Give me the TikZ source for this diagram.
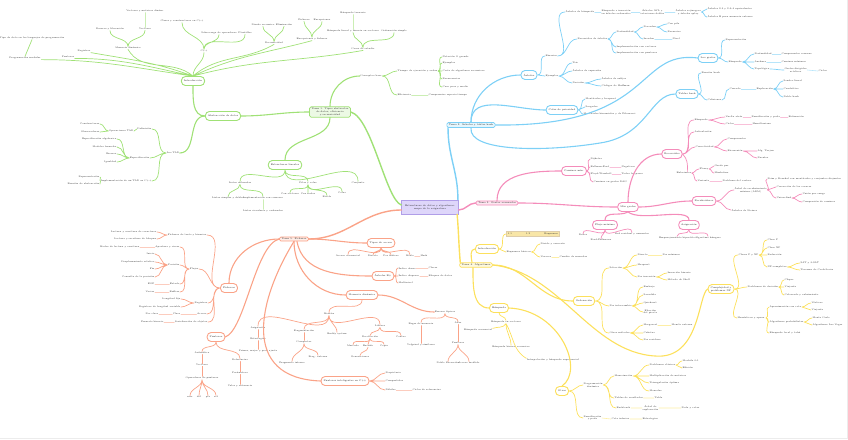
\documentclass[tikz,border=0pt]{standalone}
\usepackage{tikz}
\usetikzlibrary{positioning}

\definecolor{grn}{RGB}{160,225,118}
\definecolor{blu}{RGB}{125,208,246}
\definecolor{pnk}{RGB}{244,140,186}
\definecolor{ylw}{RGB}{252,224,92}
\definecolor{org}{RGB}{250,163,136}
\definecolor{lav}{RGB}{222,214,250}
\definecolor{lavd}{RGB}{176,158,232}
\definecolor{crm}{RGB}{246,234,208}
\definecolor{crmd}{RGB}{222,205,170}

\tikzset{
  txt/.style={font=\fontsize{2.3}{2.8}\selectfont, inner sep=0.4pt, text=black!80, align=center},
  wtxt/.style={txt, anchor=west},
  etxt/.style={txt, anchor=east},
  topicbox/.style={draw=#1, rounded corners=4pt, line width=0.9pt, fill=white, inner xsep=2.5pt, inner ysep=1.5pt, minimum height=9pt, font=\fontsize{2.4}{2.9}\selectfont, align=center, text=black!85},
  mainbox/.style={draw=#1, fill=#1!20, rounded corners=1.5pt, line width=0.7pt, inner xsep=2pt, inner ysep=1.2pt, font=\fontsize{2.4}{2.9}\selectfont, align=center, text=black!85},
  tl/.style={draw=#1, line width=1.4pt, line cap=round},
  ml/.style={draw=#1, line width=1.1pt, line cap=round},
  ll/.style={draw=#1, line width=0.7pt, line cap=round},
  fl/.style={draw=#1!55, line width=0.6pt, line cap=round},
  rt/.style={out=0, in=180},
  lf/.style={out=180, in=0},
  dn/.style={out=-90, in=90},
  upw/.style={out=90, in=-90},
}

\begin{document}
\begin{tikzpicture}[x=1pt, y=-1pt]
\useasboundingbox (0,0) rectangle (848,439);
\draw[gray!15, line width=1pt] (0,438.5) -- (847.5,438.5) -- (847.5,0);

% centre
\node[draw=lavd, fill=lav, line width=0.7pt, minimum width=46pt, minimum height=14pt, font=\fontsize{2.4}{2.9}\selectfont, align=center, text=black!85] (ctr) at (430,207) {Estructuras de datos y algoritmos:\\ mapa de la asignatura};

% tema 1
\node[mainbox=grn] (g0) at (330,112) {Tema 1. Tipos abstractos\\ de datos, eficiencia\\ y recursividad};
\node[txt] (g1) at (371,76) {Conceptos base};
\node[wtxt] (g1a) at (397,71) {Tiempo de ejecución y orden};
\node[wtxt] (g1a1) at (442,57) {Notación O grande};
\node[wtxt] (g1a2) at (442,63) {Ejemplos};
\node[wtxt] (g1a3) at (442,71) {Coste de algoritmos recursivos};
\node[wtxt] (g1a4) at (442,79) {Recurrencias};
\node[wtxt] (g1a5) at (442,87) {Caso peor y medio};
\node[wtxt] (g1b) at (397,95) {Eficiencia};
\node[wtxt] (g1b1) at (428,95) {Compromiso espacio-tiempo};
\node[topicbox=grn] (g2) at (285,165) {Estructuras lineales};
\node[txt] (g2a) at (240,183) {Listas enlazadas};
\node[txt] (g2a1) at (228,198) {Listas simples y dobles};
\node[txt] (g2a2) at (263,198) {Implementación con cursores};
\node[txt] (g2a3) at (263,211) {Listas circulares y ordenadas};
\node[txt] (g2b) at (308,183) {Pilas y colas};
\node[txt] (g2b1) at (290,194) {Con vectores};
\node[txt] (g2b2) at (308,194) {Con nodos};
\node[txt] (g2b3) at (327,197) {Bicola};
\node[txt] (g2b4) at (342,193) {Colas};
\node[txt] (g2c) at (358,183) {Conjunto};
\node[topicbox=grn] (g3) at (223,116) {Abstracción de datos};
\node[topicbox=grn] (g4) at (193,81) {Introducción};
\node[txt] (g5) at (173,153) {Los TAD};
\node[etxt] (g5a) at (152,129) {Definición};
\node[etxt] (g5a1) at (134,131) {Operaciones TAD};
\node[etxt] (g5a1a) at (100,124) {Constructoras};
\node[etxt] (g5a1b) at (100,132) {Observadoras};
\node[etxt] (g5b) at (150,158) {Especificación};
\node[etxt] (g5b1) at (117,139) {Especificación algebraica};
\node[etxt] (g5b2) at (117,147) {Modelos formales};
\node[etxt] (g5b3) at (117,154) {Errores};
\node[etxt] (g5b4) at (117,162) {Igualdad};
\node[etxt] (g5c) at (152,181) {Implementación de un TAD en C++};
\node[etxt] (g5c1) at (100,177) {Representación};
\node[etxt] (g5c2) at (100,184) {Función de abstracción};
\node[txt] (g4a) at (25,58) {Programación modular};
\node[txt] (g4a1) at (32,38) {Tipo de dato en los lenguajes de programación};
\node[txt] (g4b) at (68,57) {Punteros};
\node[txt] (g4c) at (84,51) {Registros};
\node[txt] (g4d) at (128,48) {Memoria dinámica};
\node[txt] (g4d1) at (110,29) {Reserva y liberación};
\node[txt] (g4d2) at (145,29) {Vectores};
\node[txt] (g4d3) at (145,11) {Vectores y matrices dinám.};
\node[txt] (g4e) at (204,51) {C++};
\node[txt] (g4e1) at (182,21) {Clases y constructores en C++};
\node[txt] (g4e2) at (219,33) {Sobrecarga de operadores};
\node[txt] (g4e3) at (245,33) {Plantillas};
\node[txt] (g4f) at (274,43) {Recursividad};
\node[txt] (g4f1) at (263,25) {Diseño recursivo};
\node[txt] (g4f2) at (284,25) {Eliminación};
\node[txt] (g4g) at (312,39) {Excepciones y ficheros};
\node[txt] (g4g1) at (304,20) {Ficheros};
\node[txt] (g4g2) at (322,20) {Excepciones};
\node[txt] (g4h) at (363,49) {Casos de estudio};
\node[txt] (g4h1) at (353,31) {Búsqueda lineal y binaria en vectores};
\node[txt] (g4h2) at (394,31) {Ordenación simple};
\node[txt] (g4h3) at (353,13) {Búsqueda ternaria};

% tema 2
\node[mainbox=blu] (b0) at (471,125) {Tema 2. Árboles y tablas hash};
\node[topicbox=blu] (b1) at (529,75) {Árboles};
\node[topicbox=blu] (b2) at (562,110) {Colas de prioridad};
\node[topicbox=blu] (b3) at (708,58) {Los grafos};
\node[topicbox=blu] (b4) at (687,94) {Tablas hash};
\node[wtxt] (b1a) at (545,56) {Binarios};
\node[wtxt] (b1b) at (565,12) {Árboles de búsqueda};
\node[wtxt] (b1b1) at (601,12) {Búsqueda e inserción\\ en árboles ordenados};
\node[wtxt] (b1b2) at (640,12) {Árboles AVL y\\ rotaciones dobles};
\node[wtxt] (b1b3) at (675,12) {Árboles rojinegros\\ y árboles splay};
\node[wtxt] (b1b4) at (707,9) {Árboles 2-3 y 2-3-4 equivalentes};
\node[wtxt] (b1b5) at (707,17) {Árboles B para memoria externa};
\node[wtxt] (b1c) at (577,39) {Recorridos de árboles};
\node[wtxt] (b1c1) at (616,32) {Profundidad};
\node[wtxt] (b1c1a) at (643,27) {Preorden};
\node[wtxt] (b1c1a1) at (667,24) {Con pila};
\node[wtxt] (b1c1a2) at (667,32) {Recursivo};
\node[wtxt] (b1c1b) at (643,39) {Inorden};
\node[wtxt] (b1c1b1) at (672,39) {Nivel};
\node[wtxt] (b1c2) at (616,47) {Implementación con vectores};
\node[wtxt] (b1c3) at (616,53) {Implementación con punteros};
\node[wtxt] (b1d) at (545,76) {Ejemplos};
\node[wtxt] (b1d1) at (572,63) {Trie};
\node[wtxt] (b1d2) at (572,71) {Árboles de expresión};
\node[wtxt] (b1d3) at (572,83) {Decisión};
\node[wtxt] (b1d3a) at (601,79) {Árboles de sufijos};
\node[wtxt] (b1d3b) at (601,86) {Códigos de Huffman};
\node[wtxt] (b2a) at (585,99) {Montículos y heapsort};
\node[wtxt] (b2b) at (585,107) {Sesgados};
\node[wtxt] (b2c) at (583,114) {Montículos binomiales y de Fibonacci};
\node[wtxt] (b3a) at (725,40) {Representación};
\node[wtxt] (b3b) at (728,62) {Búsqueda};
\node[wtxt] (b3b1) at (754,54) {Profundidad};
\node[wtxt] (b3b1a) at (781,54) {Componentes conexas};
\node[wtxt] (b3b2) at (754,62) {Anchura};
\node[wtxt] (b3b2a) at (781,62) {Caminos mínimos};
\node[wtxt] (b3b3) at (754,69) {Topológica};
\node[wtxt] (b3b3a) at (784,70) {Grafos dirigidos\\ acíclicos};
\node[wtxt] (b3b3a1) at (818,71) {Ciclos};
\node[wtxt] (b4a) at (701,73) {Función hash};
\node[wtxt] (b4b) at (707,100) {Colisiones};
\node[wtxt] (b4b1) at (729,89) {Cerrada};
\node[wtxt] (b4b1a) at (756,89) {Exploración};
\node[wtxt] (b4b1a1) at (783,81) {Sondeo lineal};
\node[wtxt] (b4b1a2) at (783,89) {Cuadrático};
\node[wtxt] (b4b1a3) at (783,97) {Doble hash};

% tema 3
\node[mainbox=pnk] (p0) at (497,203) {Tema 3. Grafos avanzados};
\node[topicbox=pnk] (p1) at (574,171) {Caminos mín.};
\node[wtxt] (p1a) at (590,159) {Dijkstra};
\node[wtxt] (p1b) at (590,167) {Bellman-Ford};
\node[wtxt] (p1b1) at (621,167) {Negativos};
\node[wtxt] (p1c) at (590,174) {Floyd-Warshall};
\node[wtxt] (p1c1) at (621,174) {Todos los pares};
\node[wtxt] (p1d) at (593,182) {Caminos en grafos DAG};
\node[topicbox=pnk] (p2) at (628,207) {Más grafos};
\node[topicbox=pnk] (p3) at (672,154) {Recorridos};
\node[wtxt] (p3a) at (694,120) {Búsqueda};
\node[wtxt] (p3a1) at (725,117) {Vuelta atrás};
\node[wtxt] (p3a1a) at (751,117) {Ramificación y poda};
\node[wtxt] (p3a1b) at (788,117) {Estimación};
\node[wtxt] (p3a2) at (725,124) {Ciclos};
\node[wtxt] (p3a2a) at (752,124) {Hamiltoniano};
\node[wtxt] (p3b) at (694,132) {Articulación};
\node[wtxt] (p3c) at (695,147) {Conectividad};
\node[wtxt] (p3c1) at (727,139) {Componentes};
\node[wtxt] (p3c2) at (727,151) {Biconexión};
\node[wtxt] (p3c2a) at (757,151) {Alg. Tarjan};
\node[wtxt] (p3c2b) at (757,158) {Puentes};
\node[wtxt] (p3d) at (676,173) {Eulerianos};
\node[wtxt] (p3d1) at (699,169) {Fleury};
\node[wtxt] (p3d1a) at (714,166) {Grado par};
\node[wtxt] (p3d1b) at (714,173) {Hierholzer};
\node[wtxt] (p3d2) at (697,181) {Variante};
\node[wtxt] (p3d2a) at (722,181) {Problema del cartero};
\node[topicbox=pnk] (p4) at (704,201) {Recubridores};
\node[wtxt] (p4a) at (734,190) {Árbol de recubrimiento\\ mínimo (ARM)};
\node[wtxt] (p4a1) at (767,179) {Prim y Kruskal con montículos y conjuntos disjuntos};
\node[wtxt] (p4a2) at (776,187) {Corrección de los voraces};
\node[wtxt] (p4a3) at (776,198) {Union-find};
\node[wtxt] (p4a3a) at (802,194) {Unión por rango};
\node[wtxt] (p4a3b) at (802,202) {Compresión de caminos};
\node[wtxt] (p4b) at (731,210) {Árboles de Steiner};
\node[topicbox=pnk] (p5) at (605,225) {Flujo máximo};
\node[txt] (p5a) at (583,235) {Redes};
\node[txt] (p5b) at (601,240) {Ford-Fulkerson};
\node[txt] (p5c) at (632,234) {Red residual y aumentos};
\node[topicbox=pnk] (p6) at (689,225) {Asignación};
\node[txt] (p6a) at (677,238) {Emparejamiento bipartito};
\node[txt] (p6b) at (708,238) {Algoritmo húngaro};

% tema 4
\node[mainbox=ylw] (y0) at (476,265) {Tema 4. Algoritmos};
\node[topicbox=ylw] (y1) at (487,249) {Introducción};
\node[txt, anchor=west, draw=crmd, fill=ylw!35!crm, line width=0.8pt, minimum width=53pt, minimum height=5.5pt, inner sep=0.6pt, text width=50pt, align=left] (y1a) at (506,234) {1.1\hfill 1.2\hfill Esquemas};
\node[wtxt] (y1b) at (506,252) {Esquemas básicos};
\node[wtxt] (y1b1) at (540,244) {Divide y vencerás};
\node[wtxt] (y1b2) at (540,257) {Voraces};
\node[wtxt] (y1b2a) at (559,257) {Cambio de monedas};
\node[topicbox=ylw] (y2) at (584,301) {Ordenación};
\node[wtxt] (y2a) at (609,268) {Selección};
\node[wtxt] (y2a1) at (637,255) {Directa};
\node[wtxt] (y2a1a) at (662,255) {Por mínimos};
\node[wtxt] (y2a2) at (637,265) {Heapsort};
\node[wtxt] (y2a3) at (637,277) {Por inserción};
\node[wtxt] (y2a3a) at (667,273) {Inserción binaria};
\node[wtxt] (y2a3b) at (667,280) {Método de Shell};
\node[wtxt] (y2b) at (609,306) {Por intercambio};
\node[wtxt] (y2b1) at (643,287) {Burbuja};
\node[wtxt] (y2b2) at (643,295) {Sacudida};
\node[wtxt] (y2b3) at (643,303) {Quicksort};
\node[wtxt] (y2b4) at (643,312) {Elección\\ del pivote};
\node[wtxt] (y2c) at (609,333) {Otros métodos};
\node[wtxt] (y2c1) at (643,325) {Mergesort};
\node[wtxt] (y2c1a) at (671,325) {Mezcla externa};
\node[wtxt] (y2c2) at (643,333) {Cubetas};
\node[wtxt] (y2c3) at (643,340) {Por residuos};
\node[topicbox=ylw] (y3) at (499,308) {Búsqueda};
\node[txt] (y3a) at (506,322) {Búsqueda en vectores};
\node[txt] (y3a1) at (478,330) {Búsqueda secuencial};
\node[txt] (y3a2) at (511,347) {Búsqueda binaria recursiva};
\node[txt] (y3a3) at (553,360) {Interpolación y búsqueda exponencial};
\node[topicbox=ylw] (y4) at (562,391) {Otros};
\node[wtxt] (y4a) at (583,385) {Programación\\ dinámica};
\node[wtxt] (y4a1) at (614,376) {Memoización};
\node[wtxt] (y4a1a) at (649,365) {Problemas clásicos};
\node[wtxt] (y4a1a1) at (682,361) {Mochila 0-1};
\node[wtxt] (y4a1a2) at (682,368) {Edición};
\node[wtxt] (y4a1b) at (649,376) {Multiplicación de matrices};
\node[wtxt] (y4a1c) at (649,383) {Triangulación óptima};
\node[wtxt] (y4a1d) at (649,391) {Monedas};
\node[wtxt] (y4b) at (614,398) {Tablas de resultados};
\node[wtxt] (y4b1) at (654,398) {Tabla};
\node[wtxt] (y4c) at (616,408) {Backtrack};
\node[wtxt] (y4c1) at (642,408) {Árbol de\\ exploración};
\node[wtxt] (y4c1a) at (681,408) {Poda y cotas};
\node[wtxt] (y4d) at (583,418) {Ramificación\\ y poda};
\node[wtxt] (y4d1) at (611,419) {Cota inferior};
\node[wtxt] (y4d2) at (642,419) {Estrategias};
\node[topicbox=ylw] (y5) at (721,289) {Complejidad y\\ problemas NP};
\node[wtxt] (y5a) at (738,255) {Clases P y NP};
\node[wtxt] (y5a1) at (767,240) {Clase P};
\node[wtxt] (y5a2) at (767,248) {Clase NP};
\node[wtxt] (y5a3) at (767,255) {Reducción};
\node[wtxt] (y5a4) at (767,267) {NP-completos};
\node[wtxt] (y5a4a) at (800,263) {SAT y 3-SAT};
\node[wtxt] (y5a4b) at (800,270) {Teorema de Cook-Levin};
\node[wtxt] (y5b) at (747,287) {Problemas de decisión};
\node[wtxt] (y5b1) at (784,280) {Clique};
\node[wtxt] (y5b2) at (784,287) {Viajante};
\node[wtxt] (y5b3) at (784,295) {Coloreado y cubrimiento};
\node[wtxt] (y5c) at (737,318) {Heurísticas y aprox.};
\node[wtxt] (y5c1) at (769,307) {Aproximación con cota};
\node[wtxt] (y5c1a) at (811,303) {Vértices};
\node[wtxt] (y5c1b) at (811,310) {Viajante};
\node[wtxt] (y5c2) at (769,322) {Algoritmos probabilistas};
\node[wtxt] (y5c2a) at (812,318) {Monte Carlo};
\node[wtxt] (y5c2b) at (812,325) {Algoritmos Las Vegas};
\node[wtxt] (y5c3) at (769,333) {Búsqueda local y tabú};

% tema 5
\node[mainbox=org] (o0) at (294,239) {Tema 5. Ficheros};
\node[topicbox=org] (o1) at (381,243) {Tipos de acceso};
\node[txt] (o1a) at (348,256) {Acceso secuencial};
\node[txt] (o1b) at (373,256) {Directo};
\node[txt] (o1c) at (391,256) {Por índices};
\node[txt] (o1d) at (410,256) {Mixto};
\node[wtxt] (o1d1) at (420,256) {Hash};
\node[topicbox=org] (o2) at (383,276) {Árboles B+};
\node[wtxt] (o2a) at (398,268) {Índice denso};
\node[wtxt] (o2a1) at (428,268) {Claves};
\node[wtxt] (o2b) at (398,276) {Índice disperso};
\node[wtxt] (o2b1) at (428,276) {Bloques de datos};
\node[wtxt] (o2c) at (398,283) {Multinivel};
\node[topicbox=org] (o3) at (362,295) {Memoria dinámica};
\node[txt] (o3a) at (329,314) {Montón};
\node[txt] (o3a1) at (258,328) {Asignación};
\node[txt] (o3a1a) at (258,339) {Estrategias};
\node[txt] (o3a1b) at (258,351) {Primer, mejor y peor ajuste};
\node[txt] (o3a2) at (304,331) {Fragmentación};
\node[txt] (o3a2a) at (304,342) {Compactar};
\node[txt] (o3a2b) at (292,363) {Fragmento interno};
\node[txt] (o3a2c) at (318,357) {Frag. externa};
\node[txt] (o3a3) at (337,334) {Buddy system};
\node[txt] (o3a4) at (380,326) {Liberar};
\node[txt] (o3a4a) at (370,337) {Recolección};
\node[txt] (o3a4a1) at (353,346) {Marcado};
\node[txt] (o3a4a2) at (368,346) {Barrido};
\node[txt] (o3a4a3) at (384,346) {Copia};
\node[txt] (o3a4a4) at (360,357) {Generaciones};
\node[txt] (o3a4b) at (401,337) {Conteo};
\node[txt] (o3b) at (445,312) {Errores típicos};
\node[txt] (o3b1) at (421,324) {Fugas de memoria};
\node[txt] (o3b1a) at (421,345) {Valgrind y similares};
\node[txt] (o3b2) at (458,323) {Alias};
\node[txt] (o3b2a) at (458,343) {Punteros};
\node[txt] (o3b2b) at (448,363) {Doble liberación};
\node[txt] (o3b2c) at (469,363) {Acceso inválido};
\node[topicbox=org] (o4) at (229,288) {Ficheros};
\node[etxt] (o4a) at (207,235) {Ficheros de texto y binarios};
\node[etxt] (o4a1) at (157,232) {Lectura y escritura de caracteres};
\node[etxt] (o4a2) at (157,239) {Lectura y escritura de bloques};
\node[etxt] (o4b) at (199,269) {Flujos};
\node[etxt] (o4b1) at (180,247) {Apertura y cierre};
\node[etxt] (o4b1a) at (140,247) {Modos de lectura y escritura};
\node[etxt] (o4b2) at (180,265) {Posición};
\node[etxt] (o4b2a) at (155,254) {Inicio};
\node[etxt] (o4b2b) at (155,262) {Desplazamiento relativo};
\node[etxt] (o4b2c) at (155,269) {Fin};
\node[etxt] (o4b2d) at (155,277) {Consulta de la posición};
\node[etxt] (o4b3) at (180,284) {Estado};
\node[etxt] (o4b3a) at (155,284) {EOF};
\node[etxt] (o4b4) at (180,292) {Buffers};
\node[etxt] (o4b4a) at (155,292) {Vaciar};
\node[etxt] (o4c) at (208,303) {Registros};
\node[etxt] (o4c1) at (181,299) {Longitud fija};
\node[etxt] (o4c2) at (181,307) {Registros de longitud variable};
\node[etxt] (o4d) at (207,314) {Acceso};
\node[etxt] (o4d1) at (181,314) {Clave};
\node[etxt] (o4d1a) at (159,314) {Por clave};
\node[etxt] (o4e) at (208,322) {Serialización de objetos};
\node[etxt] (o4e1) at (164,322) {Formato binario};
\node[topicbox=org] (o5) at (216,337) {Punteros};
\node[txt] (o5a) at (202,353) {Aritmética};
\node[txt] (o5a1) at (202,365) {Vectores};
\node[txt] (o5a2) at (202,378) {Operadores de punteros};
\node[txt] (o5a2a) at (190,397) {new};
\node[txt] (o5a2b) at (199,397) {del};
\node[txt] (o5a2c) at (208,397) {ptr};
\node[txt] (o5a2d) at (216,397) {ref};
\node[txt] (o5b) at (240,360) {Referencias};
\node[txt] (o5b1) at (240,373) {Parámetros};
\node[txt] (o5b2) at (240,386) {Valor y referencia};
\node[topicbox=org] (o6) at (345,381) {Punteros inteligentes en C++};
\node[wtxt] (o6a) at (385,373) {Propietario};
\node[wtxt] (o6b) at (385,381) {Compartidos};
\node[wtxt] (o6c) at (385,390) {Débiles};
\node[wtxt] (o6c1) at (412,390) {Ciclos de referencias};

% main branches
\draw[tl=grn] (g0.east) .. controls (372,118) and (386,200) .. ([yshift=2pt]ctr.west);
\draw[tl=blu] ([xshift=-0.7pt]ctr.north east) to[out=90,in=-90] ([xshift=1.5pt]b0.south west);
\draw[tl=pnk] ([yshift=-3pt]ctr.east) to[rt] (p0.west);
\draw[tl=ylw] ([xshift=-1.5pt]ctr.south east) to[out=-85,in=95] ([xshift=1pt]y0.north west);
\draw[tl=org] ([yshift=-3pt]ctr.west) to[lf] (o0.east);

% green links
\draw[ml=grn] (g0.north) to[out=90,in=180] (g1.west);
\draw[ll=grn] (g1.east) to[rt] (g1a.west) (g1.east) to[rt] (g1b.west);
\draw[ll=grn] (g1a.east) to[rt] (g1a1.west) (g1a.east) to[rt] (g1a2.west) (g1a.east) to[rt] (g1a3.west) (g1a.east) to[rt] (g1a4.west) (g1a.east) to[rt] (g1a5.west);
\draw[fl=grn] (g1b.east) -- (g1b1.west);
\draw[ml=grn] (g0.south) to[dn] (g2.north);
\draw[ll=grn] (g2.south) to[dn] (g2a.north) (g2.south) to[dn] (g2b.north) (g2.south) to[dn] (g2c.north);
\draw[ll=grn] (g2a.south) to[dn] (g2a1.north) (g2a.south) to[dn] (g2a2.north);
\draw[fl=grn] (g2a2.south) -- (g2a3.north);
\draw[ll=grn] (g2b.south) to[dn] (g2b1.north) (g2b.south) to[dn] (g2b2.north) (g2b.south) to[dn] (g2b3.north) (g2b.south) to[dn] (g2b4.north);
\draw[ml=grn] (g0.west) to[lf] (g3.east);
\draw[ml=grn] (g3.west) to[out=180,in=-90] (g4.south);
\draw[ml=grn] (g3.west) to[lf] (g5.east);
\draw[ll=grn] (g5.west) to[lf] (g5a.east) (g5.west) to[lf] (g5b.east) (g5.west) to[lf] (g5c.east);
\draw[ll=grn] (g5a.west) to[lf] (g5a1.east);
\draw[ll=grn] (g5a1.west) to[lf] (g5a1a.east) (g5a1.west) to[lf] (g5a1b.east);
\draw[ll=grn] (g5b.west) to[lf] (g5b1.east) (g5b.west) to[lf] (g5b2.east) (g5b.west) to[lf] (g5b3.east) (g5b.west) to[lf] (g5b4.east);
\draw[ll=grn] (g5c.west) to[lf] (g5c1.east) (g5c.west) to[lf] (g5c2.east);
\draw[ll=grn] (g4.north) to[out=172,in=0] (g4a.south east) (g4.north) to[out=168,in=0] (g4b.south east) (g4.north) to[out=160,in=-10] (g4c.south east) (g4.north) to[out=140,in=-60] (g4d.south);
\draw[ll=grn] (g4.north) to[upw] (g4e.south) (g4.north) to[out=40,in=-150] (g4f.south) (g4.north) to[out=25,in=-165] (g4g.south) (g4.north) to[out=15,in=-170] (g4h.south);
\draw[ll=grn] (g4a.north) -- (g4a1.south);
\draw[ll=grn] (g4d.north) to[upw] (g4d1.south) (g4d.north) to[upw] (g4d2.south);
\draw[fl=grn] (g4d2.north) -- (g4d3.south);
\draw[ll=grn] (g4e.north) to[upw] (g4e1.south) (g4e.north) to[upw] (g4e2.south) (g4e.north) to[upw] (g4e3.south);
\draw[ll=grn] (g4f.north) to[upw] (g4f1.south) (g4f.north) to[upw] (g4f2.south);
\draw[ll=grn] (g4g.north) to[upw] (g4g1.south) (g4g.north) to[upw] (g4g2.south);
\draw[ll=grn] (g4h.north) to[upw] (g4h1.south) (g4h.north) to[upw] (g4h2.south);
\draw[fl=grn] (g4h1.north) -- (g4h3.south);

% blue links
\draw[ml=blu] (b0.north) to[out=90,in=180] (b1.west);
\draw[ml=blu] (b0.north) to[out=90,in=180] (b2.west);
\draw[ml=blu] (b0.east) .. controls (655,127) and (635,50) .. (b3.west);
\draw[ml=blu] (b0.south) .. controls (468,152) and (545,152) .. (600,143) .. controls (648,136) and (650,94) .. (b4.west);
\draw[ll=blu] (b1.east) to[rt] (b1a.west) (b1.east) to[rt] (b1d.west);
\draw[ll=blu] (b1a.east) to[rt] (b1b.west) (b1a.east) to[rt] (b1c.west);
\draw[fl=blu] (b1b.east) -- (b1b1.west) (b1b1.east) -- (b1b2.west) (b1b2.east) -- (b1b3.west);
\draw[ll=blu] (b1b3.east) to[rt] (b1b4.west) (b1b3.east) to[rt] (b1b5.west);
\draw[ll=blu] (b1c.east) to[rt] (b1c1.west) (b1c.east) to[rt] (b1c2.west) (b1c.east) to[rt] (b1c3.west);
\draw[ll=blu] (b1c1.east) to[rt] (b1c1a.west) (b1c1.east) to[rt] (b1c1b.west);
\draw[ll=blu] (b1c1a.east) to[rt] (b1c1a1.west) (b1c1a.east) to[rt] (b1c1a2.west);
\draw[fl=blu] (b1c1b.east) -- (b1c1b1.west);
\draw[ll=blu] (b1d.east) to[rt] (b1d1.west) (b1d.east) to[rt] (b1d2.west) (b1d.east) to[rt] (b1d3.west);
\draw[ll=blu] (b1d3.east) to[rt] (b1d3a.west) (b1d3.east) to[rt] (b1d3b.west);
\draw[ll=blu] (b2.east) to[rt] (b2a.west) (b2.east) to[rt] (b2b.west) (b2.east) to[rt] (b2c.west);
\draw[ll=blu] (b3.east) to[rt] (b3a.west) (b3.east) to[rt] (b3b.west);
\draw[ll=blu] (b3b.east) to[rt] (b3b1.west) (b3b.east) to[rt] (b3b2.west) (b3b.east) to[rt] (b3b3.west);
\draw[fl=blu] (b3b1.east) -- (b3b1a.west) (b3b2.east) -- (b3b2a.west);
\draw[ll=blu] (b3b3.east) to[rt] (b3b3a.west);
\draw[fl=blu] (b3b3a.east) -- (b3b3a1.west);
\draw[ll=blu] (b4.east) to[rt] (b4a.west) (b4.east) to[rt] (b4b.west);
\draw[ll=blu] (b4b.east) to[rt] (b4b1.west);
\draw[fl=blu] (b4b1.east) -- (b4b1a.west);
\draw[ll=blu] (b4b1a.east) to[rt] (b4b1a1.west) (b4b1a.east) to[rt] (b4b1a2.west) (b4b1a.east) to[rt] (b4b1a3.west);

% pink links
\draw[ml=pnk] (p0.north) to[out=90,in=180] (p1.west);
\draw[ll=pnk] (p1.east) to[rt] (p1a.west) (p1.east) to[rt] (p1b.west) (p1.east) to[rt] (p1c.west) (p1.east) to[rt] (p1d.west);
\draw[fl=pnk] (p1b.east) -- (p1b1.west) (p1c.east) -- (p1c1.west);
\draw[ml=pnk] (p0.east) to[rt] (p2.west);
\draw[ml=pnk] (p2.north) to[out=90,in=180] (p3.west);
\draw[ll=pnk] (p3.east) to[rt] (p3a.west) (p3.east) to[rt] (p3b.west) (p3.east) to[rt] (p3c.west) (p3.east) to[out=-45,in=90] ([xshift=-4pt]p3d.north east);
\draw[ll=pnk] (p3a.east) to[rt] (p3a1.west) (p3a.east) to[rt] (p3a2.west);
\draw[fl=pnk] (p3a1.east) -- (p3a1a.west) (p3a1a.east) -- (p3a1b.west) (p3a2.east) -- (p3a2a.west);
\draw[ll=pnk] (p3c.east) to[rt] (p3c1.west) (p3c.east) to[rt] (p3c2.west);
\draw[ll=pnk] (p3c2.east) to[rt] (p3c2a.west) (p3c2.east) to[rt] (p3c2b.west);
\draw[ll=pnk] (p3d.east) to[rt] (p3d1.west) (p3d.east) to[rt] (p3d2.west);
\draw[ll=pnk] (p3d1.east) to[rt] (p3d1a.west) (p3d1.east) to[rt] (p3d1b.west);
\draw[fl=pnk] (p3d2.east) -- (p3d2a.west);
\draw[ml=pnk] (p2.east) to[rt] (p4.west);
\draw[ll=pnk] (p4.east) to[rt] (p4a.west) (p4.east) to[rt] (p4b.west);
\draw[ll=pnk] (p4a.east) to[rt] (p4a1.west) (p4a.east) to[rt] (p4a2.west) (p4a.east) to[rt] (p4a3.west);
\draw[ll=pnk] (p4a3.east) to[rt] (p4a3a.west) (p4a3.east) to[rt] (p4a3b.west);
\draw[ml=pnk] (p2.south) to[out=-150,in=90] (p5.north);
\draw[ll=pnk] (p5.south) to[dn] (p5a.north) (p5.south) to[dn] (p5b.north) (p5.south) to[dn] (p5c.north);
\draw[ml=pnk] (p2.south) .. controls (640,222) and (689,207) .. (p6.north);
\draw[ll=pnk] (p6.south) to[dn] (p6a.north) (p6.south) to[dn] (p6b.north);

% yellow links
\draw[ml=ylw] ([xshift=-4pt]y0.north) to[out=100,in=180] (y1.west);
\draw[ll=ylw] (y1.east) to[rt] (y1a.west) (y1.east) to[rt] (y1b.west);
\draw[ll=ylw] (y1b.east) to[rt] (y1b1.west) (y1b.east) to[rt] (y1b2.west);
\draw[fl=ylw] (y1b2.east) -- (y1b2a.west);
\draw[ml=ylw] (y0.east) to[rt] (y2.west);
\draw[ll=ylw] (y2.east) to[rt] (y2a.west) (y2.east) to[rt] (y2b.west) (y2.east) to[rt] (y2c.west);
\draw[ll=ylw] (y2a.east) to[rt] (y2a1.west) (y2a.east) to[rt] (y2a2.west) (y2a.east) to[rt] (y2a3.west);
\draw[fl=ylw] (y2a1.east) -- (y2a1a.west);
\draw[ll=ylw] (y2a3.east) to[rt] (y2a3a.west) (y2a3.east) to[rt] (y2a3b.west);
\draw[ll=ylw] (y2b.east) to[rt] (y2b1.west) (y2b.east) to[rt] (y2b2.west) (y2b.east) to[rt] (y2b3.west) (y2b.east) to[rt] (y2b4.west);
\draw[ll=ylw] (y2c.east) to[rt] (y2c1.west) (y2c.east) to[rt] (y2c2.west) (y2c.east) to[rt] (y2c3.west);
\draw[fl=ylw] (y2c1.east) -- (y2c1a.west);
\draw[ml=ylw] ([xshift=-3pt]y0.south) to[out=-90,in=180] (y3.west);
\draw[ll=ylw] (y3.south) to[dn] (y3a.north);
\draw[ll=ylw] (y3a.south) to[out=-120,in=20] (y3a1.north east) (y3a.south) to[dn] (y3a2.north) (y3a.south) to[out=-60,in=150] (y3a3.north west);
\draw[ml=ylw] (y3.east) .. controls (560,310) and (585,370) .. (y4.north);
\draw[ll=ylw] (y4.east) to[rt] (y4a.west) (y4.east) to[rt] (y4d.west);
\draw[ll=ylw] (y4a.east) to[rt] (y4a1.west) (y4a.east) to[rt] (y4b.west) (y4a.east) to[rt] (y4c.west);
\draw[ll=ylw] (y4a1.east) to[rt] (y4a1a.west) (y4a1.east) to[rt] (y4a1b.west) (y4a1.east) to[rt] (y4a1c.west) (y4a1.east) to[rt] (y4a1d.west);
\draw[ll=ylw] (y4a1a.east) to[rt] (y4a1a1.west) (y4a1a.east) to[rt] (y4a1a2.west);
\draw[fl=ylw] (y4b.east) -- (y4b1.west) (y4c.east) -- (y4c1.west) (y4c1.east) -- (y4c1a.west) (y4d.east) -- (y4d1.west) (y4d1.east) -- (y4d2.west);
\draw[ml=ylw] (y0.east) .. controls (560,272) and (590,352) .. (655,356) .. controls (700,360) and (698,295) .. (y5.west);
\draw[ll=ylw] (y5.east) to[rt] (y5a.west) (y5.east) to[rt] (y5b.west) (y5.east) to[rt] (y5c.west);
\draw[ll=ylw] (y5a.east) to[rt] (y5a1.west) (y5a.east) to[rt] (y5a2.west) (y5a.east) to[rt] (y5a3.west) (y5a.east) to[rt] (y5a4.west);
\draw[ll=ylw] (y5a4.east) to[rt] (y5a4a.west) (y5a4.east) to[rt] (y5a4b.west);
\draw[ll=ylw] (y5b.east) to[rt] (y5b1.west) (y5b.east) to[rt] (y5b2.west) (y5b.east) to[rt] (y5b3.west);
\draw[ll=ylw] (y5c.east) to[rt] (y5c1.west) (y5c.east) to[rt] (y5c2.west) (y5c.east) to[rt] (y5c3.west);
\draw[ll=ylw] (y5c1.east) to[rt] (y5c1a.west) (y5c1.east) to[rt] (y5c1b.west);
\draw[ll=ylw] (y5c2.east) to[rt] (y5c2a.west) (y5c2.east) to[rt] (y5c2b.west);

% orange links
\draw[ml=org] (o0.east) to[rt] (o1.west);
\draw[ll=org] (o1.south) to[dn] (o1a.north) (o1.south) to[dn] (o1b.north) (o1.south) to[dn] (o1c.north) (o1.south) to[dn] (o1d.north);
\draw[fl=org] (o1d.east) -- (o1d1.west);
\draw[ml=org] ([xshift=3pt]o0.south) to[out=-80,in=180] (o2.west);
\draw[ll=org] (o2.east) to[rt] (o2a.west) (o2.east) to[rt] (o2b.west) (o2.east) to[rt] (o2c.west);
\draw[fl=org] (o2a.east) -- (o2a1.west) (o2b.east) -- (o2b1.west);
\draw[ml=org] (o0.south) to[out=-90,in=180] (o3.west);
\draw[ll=org] (o3.south) to[dn] (o3a.north);
\draw[ll=org] (o3a.south) to[dn] (o3a1.north) (o3a.south) to[dn] (o3a2.north) (o3a.south) to[dn] (o3a3.north) (o3a.south) to[dn] (o3a4.north);
\draw[ll=org] (o3a1.south) -- (o3a1a.north) (o3a1a.south) -- (o3a1b.north);
\draw[ll=org] (o3a2.south) -- (o3a2a.north);
\draw[ll=org] (o3a2a.south) to[dn] (o3a2b.north) (o3a2a.south) to[dn] (o3a2c.north);
\draw[ll=org] (o3a4.south) to[dn] (o3a4a.north) (o3a4.south) to[dn] (o3a4b.north);
\draw[ll=org] (o3a4a.south) to[dn] (o3a4a1.north) (o3a4a.south) to[dn] (o3a4a2.north) (o3a4a.south) to[dn] (o3a4a3.north);
\draw[ll=org] (o3a4a2.south) to[dn] (o3a4a4.north);
\draw[ml=org] (o3.east) to[rt] (o3b.west);
\draw[ll=org] (o3b.south) to[dn] (o3b1.north) (o3b.south) to[dn] (o3b2.north);
\draw[ll=org] (o3b1.south) -- (o3b1a.north) (o3b2.south) -- (o3b2a.north);
\draw[ll=org] (o3b2a.south) to[dn] (o3b2b.north) (o3b2a.south) to[dn] (o3b2c.north);
\draw[ml=org] (o0.west) to[out=180,in=90] (o4.north);
\draw[ll=org] (o4.west) to[lf] (o4a.east) (o4.west) to[lf] (o4b.east) (o4.west) to[lf] (o4c.east) (o4.west) to[lf] (o4d.east) (o4.west) to[lf] (o4e.east);
\draw[ll=org] (o4a.west) to[lf] (o4a1.east) (o4a.west) to[lf] (o4a2.east);
\draw[ll=org] (o4b.west) to[lf] (o4b1.east) (o4b.west) to[lf] (o4b2.east) (o4b.west) to[lf] (o4b3.east) (o4b.west) to[lf] (o4b4.east);
\draw[fl=org] (o4b1.west) -- (o4b1a.east);
\draw[ll=org] (o4b2.west) to[lf] (o4b2a.east) (o4b2.west) to[lf] (o4b2b.east) (o4b2.west) to[lf] (o4b2c.east) (o4b2.west) to[lf] (o4b2d.east);
\draw[fl=org] (o4b3.west) -- (o4b3a.east) (o4b4.west) -- (o4b4a.east);
\draw[ll=org] (o4c.west) to[lf] (o4c1.east) (o4c.west) to[lf] (o4c2.east);
\draw[fl=org] (o4d.west) -- (o4d1.east) (o4d1.west) -- (o4d1a.east) (o4e.west) -- (o4e1.east);
\draw[ml=org] (o0.west) .. controls (255,245) and (245,330) .. (o5.east);
\draw[ll=org] (o5.south) to[dn] (o5a.north) (o5.south) to[dn] (o5b.north);
\draw[ll=org] (o5a.south) -- (o5a1.north) (o5a1.south) -- (o5a2.north);
\draw[ll=org] (o5a2.south) to[dn] (o5a2a.north) (o5a2.south) to[dn] (o5a2b.north) (o5a2.south) to[dn] (o5a2c.north) (o5a2.south) to[dn] (o5a2d.north);
\draw[ll=org] (o5b.south) -- (o5b1.north) (o5b1.south) -- (o5b2.north);
\draw[ml=org] (o0.south) .. controls (258,300) and (240,378) .. (o6.west);
\draw[ll=org] (o6.east) to[rt] (o6a.west) (o6.east) to[rt] (o6b.west) (o6.east) to[rt] (o6c.west);
\draw[fl=org] (o6c.east) -- (o6c1.west);
\end{tikzpicture}
\end{document}
